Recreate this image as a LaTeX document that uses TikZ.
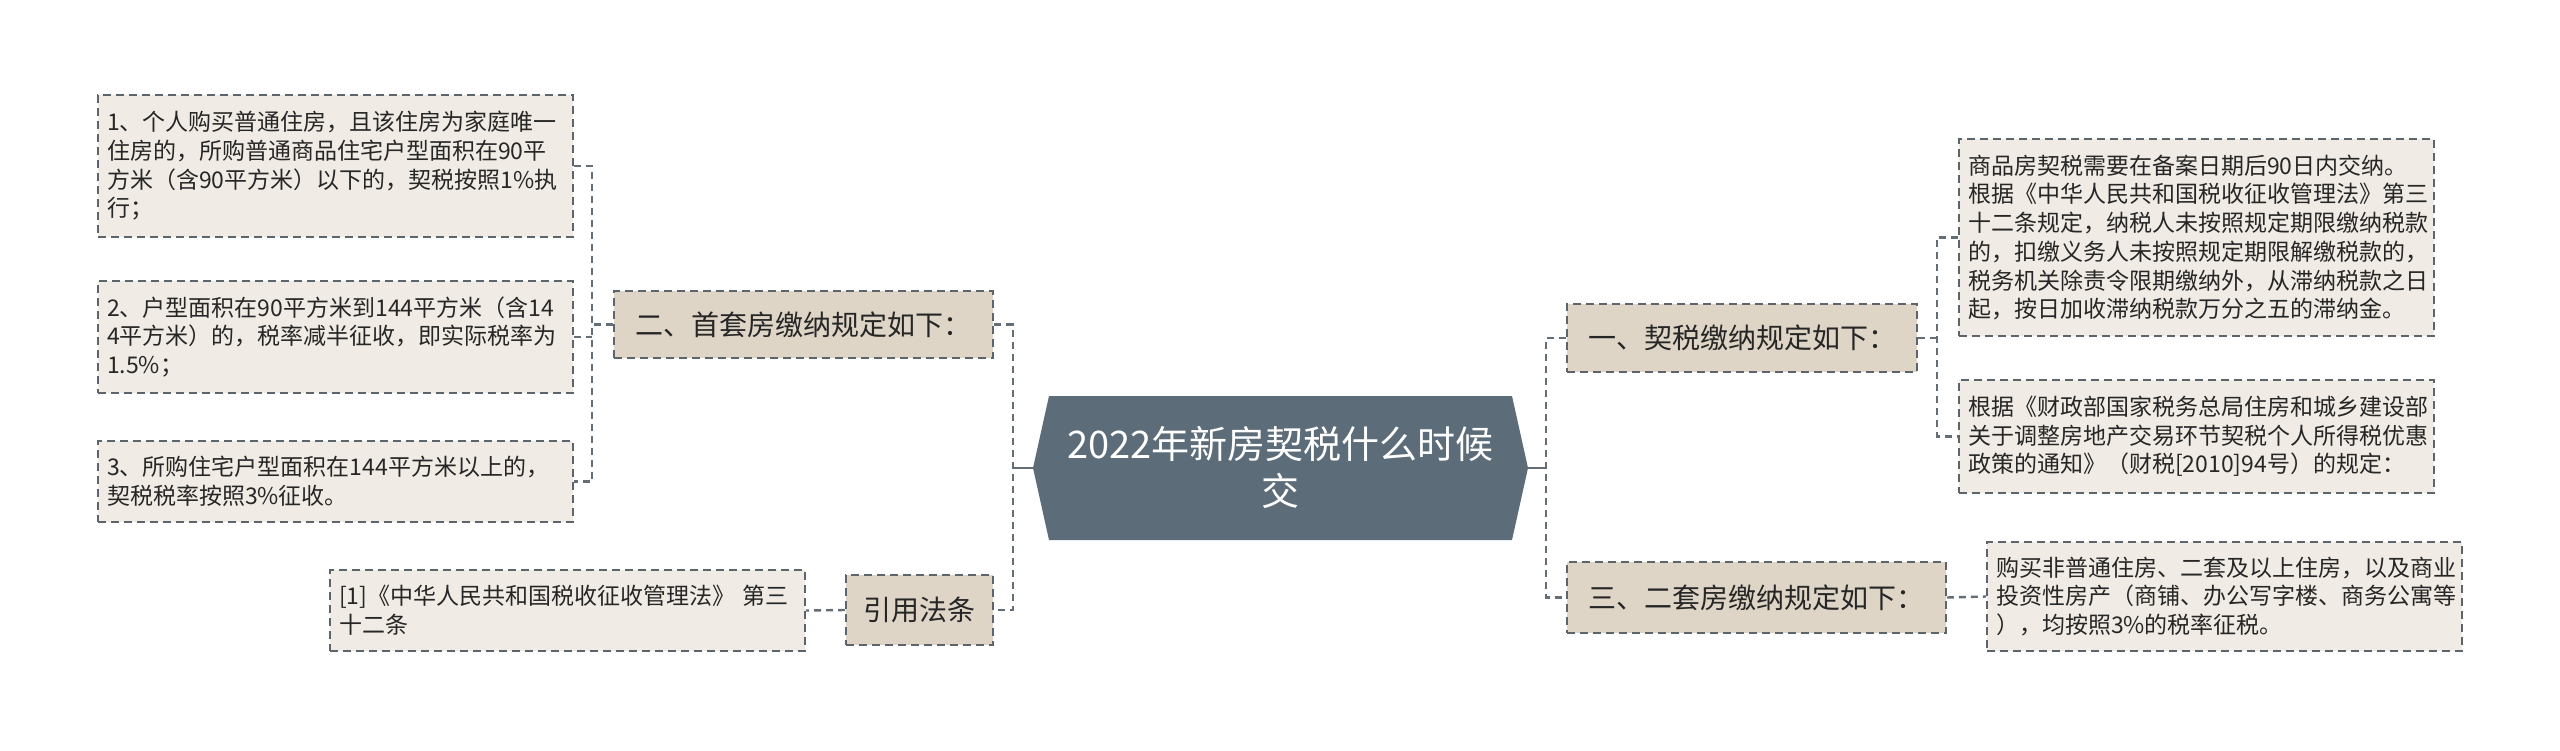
\documentclass[tikz,border=0pt]{standalone}
\usepackage{fontspec}
\setmainfont{Noto Sans CJK SC}
\usetikzlibrary{calc}
\definecolor{rootc}{RGB}{92,108,121}
\definecolor{midc}{RGB}{222,213,199}
\definecolor{leafc}{RGB}{240,236,229}
\definecolor{bordc}{RGB}{92,100,108}
\definecolor{connc}{RGB}{100,110,118}
\definecolor{txtc}{RGB}{38,38,38}
\begin{document}
\begin{tikzpicture}[x=1pt,y=-1pt,
  leaf/.style={draw=bordc, fill=leafc, dash pattern=on 8pt off 5pt, line width=1.8pt,
    font=\fontsize{23}{28.7}\selectfont, text=txtc, align=left, text width=457pt,
    inner xsep=9pt, inner ysep=0pt, anchor=center},
  mid/.style={draw=bordc, fill=midc, dash pattern=on 8pt off 5pt, line width=1.8pt,
    font=\fontsize{28}{34}\selectfont, text=txtc, inner sep=0pt, anchor=center},
  conn/.style={draw=connc, line width=2.4pt, dash pattern=on 7pt off 5pt},
  stub/.style={draw=connc, line width=2.4pt},
  rootnode/.style={inner sep=0pt, minimum width=495pt, minimum height=144pt,
    font=\fontsize{38}{47}\selectfont, text=white, align=center,
    path picture={\fill[rootc] (path picture bounding box.west)
      -- ($(path picture bounding box.north west)+(16,0)$)
      -- ($(path picture bounding box.north east)+(-16,0)$)
      -- (path picture bounding box.east)
      -- ($(path picture bounding box.south east)+(-16,0)$)
      -- ($(path picture bounding box.south west)+(16,0)$) -- cycle;}}
]
\useasboundingbox (0,0) rectangle (2560,750);

% root
\node[rootnode] (root) at (1280.5,468) {2022年新房契税什么时候\\交};

% level 1
\node[mid, minimum width=379pt, minimum height=67pt] (n2) at (803.5,324.5) {二、首套房缴纳规定如下：};
\node[mid, minimum width=147pt, minimum height=70pt] (cite) at (919.5,610) {引用法条};
\node[mid, minimum width=350pt, minimum height=68pt] (n1) at (1742,338) {一、契税缴纳规定如下：};
\node[mid, minimum width=379pt, minimum height=71pt] (n3) at (1756.5,597.5) {三、二套房缴纳规定如下：};

% left leaves
\node[leaf, minimum height=142pt] (L1) at (335.5,166) {1、个人购买普通住房，且该住房为家庭唯一\\住房的，所购普通商品住宅户型面积在90平\\方米（含90平方米）以下的，契税按照1\%执\\行；};
\node[leaf, minimum height=112pt] (L2) at (335.5,337) {2、户型面积在90平方米到144平方米（含14\\4平方米）的，税率减半征收，即实际税率为\\1.5\%；};
\node[leaf, minimum height=81pt] (L3) at (335.5,481.5) {3、所购住宅户型面积在144平方米以上的，\\契税税率按照3\%征收。};
\node[leaf, minimum height=81pt] (ref) at (567.5,610.5) {[1]《中华人民共和国税收征收管理法》 第三\\十二条};

% right leaves
\node[leaf, minimum height=197pt] (R1) at (2196.5,237.5) {商品房契税需要在备案日期后90日内交纳。\\根据《中华人民共和国税收征收管理法》第三\\十二条规定，纳税人未按照规定期限缴纳税款\\的，扣缴义务人未按照规定期限解缴税款的，\\税务机关除责令限期缴纳外，从滞纳税款之日\\起，按日加收滞纳税款万分之五的滞纳金。};
\node[leaf, minimum height=113pt] (R2) at (2196.5,436.5) {根据《财政部国家税务总局住房和城乡建设部\\关于调整房地产交易环节契税个人所得税优惠\\政策的通知》（财税[2010]94号）的规定：};
\node[leaf, minimum height=109pt] (R3) at (2224.5,596.5) {购买非普通住房、二套及以上住房，以及商业\\投资性房产（商铺、办公写字楼、商务公寓等\\），均按照3\%的税率征税。};

% connectors
\coordinate (bl) at ($(root.west)+(-20,0)$);
\coordinate (br) at ($(root.east)+(18,0)$);
\coordinate (b2) at ($(n2.west)+(-21,0)$);
\coordinate (b1) at ($(n1.east)+(19,0)$);

\draw[stub] (root.west) -- (bl);
\draw[conn] (n2.east) -| (bl) |- (cite.east);
\draw[stub] (root.east) -- (br);
\draw[conn] (n1.west) -| (br) |- (n3.west);

\draw[conn] (n2.west) -- (b2);
\draw[conn] (L1.east) -| (b2) |- (L3.east);
\draw[conn] (L2.east) -- (L2.east -| b2);
\draw[conn] (cite.west) -- (ref.east);

\draw[conn] (n1.east) -- (b1);
\draw[conn] (R1.west) -| (b1) |- (R2.west);
\draw[conn] (n3.east) -- (R3.west);
\end{tikzpicture}
\end{document}
